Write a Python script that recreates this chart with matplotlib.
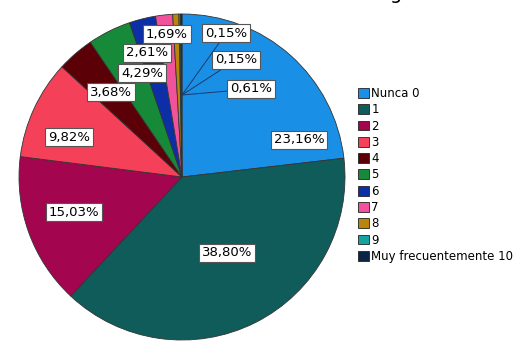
import matplotlib
matplotlib.use("Agg")
import matplotlib.pyplot as plt
import numpy as np

# ---------- data ----------
categories = ["Nunca 0", "1", "2", "3", "4", "5", "6", "7", "8", "9",
              "Muy frecuentemente 10"]
percents = [23.16, 38.80, 15.03, 9.82, 3.68, 4.29, 2.61, 1.69, 0.61, 0.15, 0.15]
labels = ["23,16%", "38,80%", "15,03%", "9,82%", "3,68%", "4,29%", "2,61%",
          "1,69%", "0,61%", "0,15%", "0,15%"]
colors = ["#1a8fe6", "#0f5c5a", "#a3064f", "#f5405a", "#5a0006", "#168a38",
          "#0c2ea6", "#f2529c", "#b8860b", "#16a3a0", "#0b2446"]

# label box positions (axes data coords, radius 1 pie)
label_pos = [(0.718, 0.227), (0.276, -0.466), (-0.663, -0.215), (-0.693, 0.245),
             (-0.436, 0.521), (-0.245, 0.638), (-0.215, 0.761), (-0.092, 0.877),
             (0.295, 0.54), (0.203, 0.718), (0.142, 0.883)]

fig = plt.figure(figsize=(5.24, 3.42), dpi=100)
fig.patch.set_facecolor("white")

W, H = 524, 342
cx, cy, r = 182, 177, 163
ax = fig.add_axes([(cx - r) / W, (H - cy - r) / H, 2 * r / W, 2 * r / H])

wedges, _ = ax.pie(percents, colors=colors, startangle=90, counterclock=False,
                   radius=1.0, wedgeprops=dict(edgecolor="#333333", linewidth=0.6))
ax.set_xlim(-1, 1)
ax.set_ylim(-1, 1)
ax.set_aspect("equal")
ax.axis("off")

bbox = dict(boxstyle="square,pad=0.22", fc="white", ec="#555555", lw=0.8)
for i, (w, lab) in enumerate(zip(wedges, labels)):
    tx, ty = label_pos[i]
    if i >= 8:
        # small slices: leader line from inside the pie
        ax.annotate(lab, xy=(0.0, 0.503), xytext=(tx, ty),
                    fontsize=9.5, ha="left", va="center", bbox=bbox,
                    arrowprops=dict(arrowstyle="-", color="#1a3a6a", lw=0.7,
                                    shrinkA=0, shrinkB=0))
    else:
        ax.text(tx, ty, lab, fontsize=9.5, ha="center", va="center", bbox=bbox)

# legend
leg = fig.legend(wedges, categories, loc="upper left",
                 bbox_to_anchor=(352 / W, 1 - 81 / H), frameon=False,
                 fontsize=8.5, handlelength=0.9, handleheight=0.9,
                 handletextpad=0.25, labelspacing=0.28, borderpad=0)
for h in leg.legend_handles:
    h.set_edgecolor("#222222")
    h.set_linewidth(0.6)

# title, almost entirely clipped by the top edge as in the source image
fig.text(228 / W, 1 + 1 / H, "Frecuencia de consumo de bebidas energéticas",
         ha="center", va="baseline", fontsize=14)

fig.savefig("out.png", dpi=100)
